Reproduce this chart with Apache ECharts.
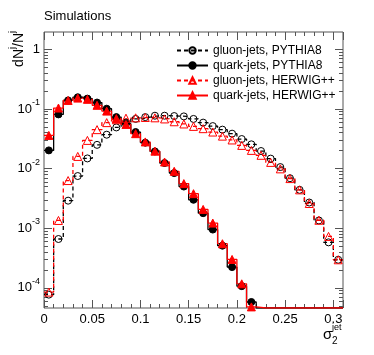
<!DOCTYPE html>
<html lang="en">
<head>
    <meta charset="UTF-8">
    <title>sigma2 jet</title>
    <style>
        * {
            margin: 0;
            padding: 0;
            box-sizing: border-box;
        }

        .chart {
            width: 374px;
            height: 355px;
        }
    </style>
</head>
<body>
<div class="chart" id="chart"></div>

<script src="https://cdn.jsdelivr.net/npm/echarts@6.0.0/dist/echarts.min.js"></script>
<script>
    // 每个 bin 宽 0.01, 共 31 个 bin (0 - 0.31)
    const binWidth = 0.01
    const seriesNames = ['gluon-jets, PYTHIA8', 'quark-jets, PYTHIA8', 'gluon-jets, HERWIG++', 'quark-jets, HERWIG++']

    const gluonPythia = [7.7e-5, 0.00066, 0.0029, 0.0075, 0.0148, 0.025, 0.037, 0.049, 0.059, 0.068,
        0.073, 0.077, 0.077, 0.076, 0.075, 0.068, 0.059, 0.0516, 0.045, 0.0385,
        0.0313, 0.0255, 0.0197, 0.0147, 0.0106, 0.0069, 0.0044, 0.0027, 0.00135, 0.00058, 0.000296]
    const quarkPythia = [0.0202, 0.081, 0.139, 0.157, 0.149, 0.128, 0.101, 0.073, 0.0566, 0.041,
        0.0272, 0.0194, 0.0124, 0.0084, 0.0050, 0.0030, 0.00179, 0.00095, 0.00051, 0.000223,
        0.000107, 0.000058, 0, 0, 0, 0, 0, 0, 0, 0, 0]
    const gluonHerwig = [8.5e-5, 0.00135, 0.0063, 0.016, 0.0297, 0.045, 0.059, 0.066, 0.070, 0.071,
        0.072, 0.071, 0.068, 0.061, 0.056, 0.051, 0.0467, 0.041, 0.035, 0.0302,
        0.0245, 0.0202, 0.0167, 0.0127, 0.0099, 0.0068, 0.0044, 0.0026, 0.00136, 0.00073, 0.000296]
    const quarkHerwig = [0.036, 0.1035, 0.139, 0.152, 0.145, 0.115, 0.092, 0.069, 0.055, 0.0385,
        0.028, 0.0196, 0.0129, 0.0090, 0.0056, 0.0038, 0.00207, 0.00122, 0.00055, 0.0003,
        0.000117, 0.000048, 0, 0, 0, 0, 0, 0, 0, 0, 0]

    const yTickPowers = [-4, -3, -2, -1, 0]

    // y 轴用 log10 的值画
    const yMin = Math.log10(4.6e-5)
    const yMax = Math.log10(1.95)
    const font = 'Liberation Sans'

    const minorValues = []
    for (let n = -5; n <= 0; n++) {
        for (let k = 2; k <= 9; k++) {
            const v = Math.log10(k * Math.pow(10, n))
            if (v > yMin && v < yMax) minorValues.push(v)
        }
    }

    function toLog(v) {
        return v > 0 ? Math.max(Math.log10(v), yMin) : yMin
    }

    // 直方图的台阶: 每个 bin 左右两个点
    function steps(vals) {
        const pts = []
        vals.forEach((v, i) => {
            pts.push([i * binWidth, toLog(v)], [(i + 1) * binWidth, toLog(v)])
        })
        return pts
    }

    function markers(vals) {
        const pts = []
        vals.forEach((v, i) => {
            if (v > 0) pts.push([(i + 0.5) * binWidth, Math.log10(v)])
        })
        return pts
    }

    const styles = [
        { color: '#000', dash: [4, 3], symbol: 'circle', size: 7, fill: 'transparent' },
        { color: '#000', dash: 'solid', symbol: 'circle', size: 7, fill: '#000' },
        { color: '#ff0000', dash: [4, 3], symbol: 'triangle', size: 8, fill: 'transparent' },
        { color: '#ff0000', dash: 'solid', symbol: 'triangle', size: 8, fill: '#ff0000' }
    ]
    const allData = [gluonPythia, quarkPythia, gluonHerwig, quarkHerwig]

    const series = []
    allData.forEach((vals, k) => {
        const s = styles[k]
        series.push({
            name: seriesNames[k],
            type: 'line',
            data: steps(vals),
            showSymbol: false,
            symbol: s.symbol,
            symbolSize: s.size,
            lineStyle: { color: s.color, width: 1.3, type: s.dash },
            itemStyle: { color: s.fill, borderColor: s.color, borderWidth: 1 },
            animation: false,
            z: 2 + k
        })
    })
    allData.forEach((vals, k) => {
        const s = styles[k]
        series.push({
            name: seriesNames[k],
            type: 'scatter',
            data: markers(vals),
            symbol: s.symbol,
            symbolSize: s.size,
            itemStyle: { color: s.fill, borderColor: s.color, borderWidth: 1, opacity: 1 },
            animation: false,
            z: 10 + k
        })
    })

    const grid = { left: 44, top: 32, right: 31, bottom: 47, show: true, borderColor: '#555', borderWidth: 1 }

    function xAx(pos) {
        return {
            type: 'value', position: pos, min: 0, max: 0.31, interval: 0.05,
            axisLine: { show: false, onZero: false },
            axisTick: { inside: true, length: 8, lineStyle: { color: '#555' } },
            minorTick: { show: true, splitNumber: 5, length: 4, lineStyle: { color: '#555' } },
            splitLine: { show: false },
            axisLabel: {
                show: pos === 'bottom', color: '#000', fontFamily: font, fontSize: 13, margin: 5,
                formatter: v => (v > 0.305 ? '' : String(+v.toFixed(2)))
            }
        }
    }

    function yAx(pos, minor) {
        return {
            type: 'value', position: pos, min: yMin, max: yMax,
            axisLine: { show: false, onZero: false },
            splitLine: { show: false },
            axisTick: {
                inside: true, length: minor ? 4 : 8, lineStyle: { color: '#555' },
                customValues: minor ? minorValues : yTickPowers
            },
            axisLabel: {
                show: pos === 'left' && !minor,
                customValues: yTickPowers,
                margin: 4,
                fontFamily: font,
                color: '#000',
                formatter: v => {
                    const p = Math.round(v)
                    return p === 0 ? '{b|1}' : '{b|10}{s|' + p + '}'
                },
                rich: {
                    b: { fontSize: 13, fontFamily: font, color: '#000', lineHeight: 22 },
                    s: { fontSize: 9, fontFamily: font, color: '#000', verticalAlign: 'top' }
                }
            }
        }
    }

    const myChart = echarts.init(document.getElementById('chart'))

    const option = {
        backgroundColor: '#fff',
        animation: false,
        grid: grid,
        xAxis: [xAx('bottom'), xAx('top')],
        yAxis: [yAx('left', false), yAx('left', true), yAx('right', false), yAx('right', true)],
        legend: {
            data: seriesNames,
            orient: 'vertical',
            left: 171,
            top: 39,
            itemWidth: 31,
            itemHeight: 8,
            itemGap: 2,
            selectedMode: false,
            textStyle: { fontFamily: font, fontSize: 12, color: '#000', lineHeight: 13 }
        },
        graphic: [
            {
                type: 'text', left: 44, top: 10,
                style: { text: 'Simulations', font: '13px "Liberation Sans"', fill: '#000' }
            },
            {
                type: 'text', x: 19, y: 31, rotation: Math.PI / 2,
                style: {
                    text: '{t|dN}{s|j}{t|/N}{s|j}',
                    align: 'right', verticalAlign: 'middle',
                    rich: {
                        t: { fontSize: 14, fontFamily: font, fill: '#000', lineHeight: 22 },
                        s: { fontSize: 9, fontFamily: font, fill: '#000', verticalAlign: 'top' }
                    }
                }
            },
            {
                type: 'text', x: 323, y: 327,
                style: { text: 'σ', font: '15px "Liberation Sans"', fill: '#000' }
            },
            {
                type: 'text', x: 332, y: 323,
                style: { text: 'jet', font: '9px "Liberation Sans"', fill: '#000' }
            },
            {
                type: 'text', x: 332, y: 336,
                style: { text: '2', font: '10px "Liberation Sans"', fill: '#000' }
            }
        ],
        series: series
    }

    myChart.setOption(option)
</script>
</body>
</html>
